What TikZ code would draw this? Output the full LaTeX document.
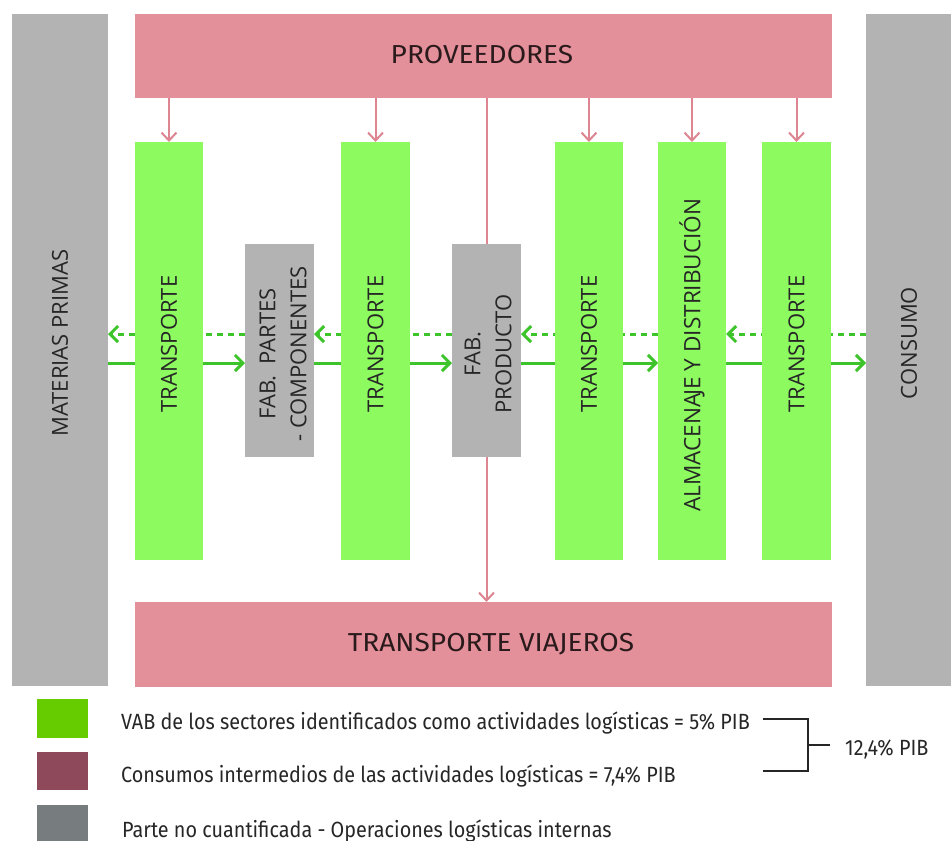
\documentclass[tikz,border=0pt]{standalone}
\usepackage{fontspec}
\setmainfont{Fira Sans}
\newfontfamily\osans{Open Sans}
\newfontfamily\legf[FakeStretch=0.9]{Fira Sans}
\newfontfamily\titf[FakeStretch=1.08]{Fira Sans}
\usetikzlibrary{arrows.meta,calc}
\definecolor{pinkbox}{HTML}{E4909A}
\definecolor{pinkline}{HTML}{DD8590}
\definecolor{greenbar}{HTML}{8DFB60}
\definecolor{greenarr}{HTML}{3CC42A}
\definecolor{graybox}{HTML}{B3B3B3}
\definecolor{lgreen}{HTML}{66CC00}
\definecolor{lmaroon}{HTML}{8E4A5A}
\definecolor{lgray}{HTML}{777C7F}
\definecolor{txt}{HTML}{262626}
\definecolor{tittxt}{HTML}{2A1A1C}
\tikzset{
  x=1pt, y=-1pt,
  boxst/.style={draw=none, inner sep=0pt, outer sep=0pt, anchor=north west},
  pinkst/.style={boxst, fill=pinkbox},
  greenst/.style={boxst, fill=greenbar},
  grayst/.style={boxst, fill=graybox},
  vtext/.style={rotate=90, text=txt, font=\osans\fontsize{22}{31}\selectfont, align=center, inner sep=0pt},
  htext/.style={text=tittxt, font=\titf\fontsize{26}{30}\selectfont, inner sep=0pt},
  legtext/.style={text=txt, font=\legf\fontsize{22}{26}\selectfont, inner sep=0pt, anchor=base west},
  parr/.style={draw=pinkline, line width=2pt, -{Straight Barb[length=8pt, width=15pt, line width=2pt]}},
  sarr/.style={draw=greenarr, line width=3pt, -{Straight Barb[length=8pt, width=16pt, line width=3pt]}},
  darr/.style={sarr, dash pattern=on 6pt off 5pt},
  brk/.style={draw=txt, line width=2pt},
}
\begin{document}
\begin{tikzpicture}
\useasboundingbox (0,0) rectangle (951,841);
% outer boxes
\node[grayst, minimum width=96pt, minimum height=672pt] (mp) at (12,14) {};
\node[grayst, minimum width=85pt, minimum height=672pt] (cons) at (866,14) {};
\node[pinkst, minimum width=697pt, minimum height=84pt] (prov) at (135,14) {};
\node[pinkst, minimum width=697pt, minimum height=85pt] (tv) at (135,602) {};
% green bars (positions only, drawn after arrows)
\path (135,142) coordinate (t1nw) (341,142) coordinate (t2nw) (555,142) coordinate (t3nw)
      (658,142) coordinate (almnw) (762,142) coordinate (t4nw);
\coordinate (sy) at (0,363);
\coordinate (dy) at (0,334);
% gray fab boxes
\node[grayst, minimum width=69pt, minimum height=213pt] (fpc) at (245,244) {};
% central pink line behind fab producto
\coordinate (fprc) at (486.5,350);
\draw[parr] (prov.south -| fprc) -- (tv.north -| fprc);
\node[grayst, minimum width=69pt, minimum height=213pt] (fpr) at (452,244) {};
% green arrows (behind bars)
\node[greenst, minimum width=68pt, minimum height=418pt] (alm) at (almnw) {};
\draw[sarr] (mp.east |- sy) -- (fpc.west |- sy);
\draw[sarr] (fpc.east |- sy) -- (fpr.west |- sy);
\draw[sarr] (fpr.east |- sy) -- (alm.west |- sy);
\draw[sarr] (alm.east |- sy) -- (cons.west |- sy);
\draw[darr] (cons.west |- dy) -- (alm.east |- dy);
\draw[darr] (alm.west |- dy) -- (fpr.east |- dy);
\draw[darr] (fpr.west |- dy) -- (fpc.east |- dy);
\draw[darr] (fpc.west |- dy) -- (mp.east |- dy);
% green bars
\node[greenst, minimum width=68pt, minimum height=418pt] (t1) at (t1nw) {};
\node[greenst, minimum width=69pt, minimum height=418pt] (t2) at (t2nw) {};
\node[greenst, minimum width=68pt, minimum height=418pt] (t3) at (t3nw) {};
\node[greenst, minimum width=69pt, minimum height=418pt] (t4) at (t4nw) {};
% pink arrows from proveedores
\foreach \b in {t1,t2,t3,alm,t4}{
  \draw[parr] (prov.south -| \b.north) -- (\b.north);
}
% texts
\node[htext] (provt) at (482,55) {PROVEEDORES};
\node[htext] (tvt) at (491,644) {TRANSPORTE VIAJEROS};
\node[vtext] (mpt) at (60,343) {MATERIAS PRIMAS};
\node[vtext] (const) at (909,343) {CONSUMO};
\node[vtext] (t1t) at (t1.center |- 0,344) {TRANSPORTE};
\node[vtext] (t2t) at (t2.center |- 0,344) {TRANSPORTE};
\node[vtext] (t3t) at (t3.center |- 0,344) {TRANSPORTE};
\node[vtext] (t4t) at (t4.center |- 0,344) {TRANSPORTE};
\node[vtext, font=\osans\fontsize{22.6}{31}\selectfont] (almt) at (alm.center |- 0,355) {ALMACENA\kern-2.5pt JE Y DISTRIBUCIÓN};
\node[vtext] (fpct) at (283,354) {FAB.\ \ PARTES\\- COMPONENTES};
\node[vtext] (fprt) at (488,354) {FAB.\\PRODUCTO};
% legend
\node[boxst, fill=lgreen, minimum width=51pt, minimum height=39pt] (lg1) at (37,699) {};
\node[boxst, fill=lmaroon, minimum width=51pt, minimum height=38pt] (lg2) at (37,752) {};
\node[boxst, fill=lgray, minimum width=51pt, minimum height=36pt] (lg3) at (37,805) {};
\node[legtext] (l1) at (121,729) {VAB de los sectores identificados como actividades logísticas = 5\% PIB};
\node[legtext] (l2) at (121,782) {Consumos intermedios de las actividades logísticas = 7,4\% PIB};
\node[legtext] (l3) at (122,837) {Parte no cuantificada - Operaciones logísticas internas};
\coordinate (b1) at (763,719);
\coordinate (b2) at (763,771);
\coordinate (bx) at (808,745);
\coordinate (bt) at (830,745);
\draw[brk] (b1) -| (bx |- b2) -- (b2);
\draw[brk] (bx) -- (bt);
\node[legtext] (tot) at (845,755) {12,4\% PIB};
\end{tikzpicture}
\end{document}
